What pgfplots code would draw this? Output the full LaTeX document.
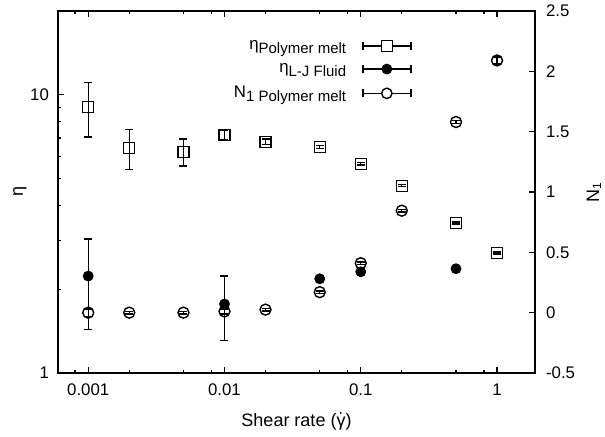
\documentclass[border=0pt]{standalone}
\usepackage{pgfplots}
\pgfplotsset{compat=1.18}
\usepackage{fontspec}
\setmainfont{Liberation Sans}
\newcommand\sub[1]{\raisebox{-0.45ex}{\fontsize{7.5}{8}\selectfont #1}}
\begin{document}
\begin{tikzpicture}
\useasboundingbox (-29pt,-32pt) rectangle (273.5pt,186.5pt);
\begin{axis}[
  scale only axis, width=238.5pt, height=181pt,
  xmode=log, ymode=log,
  xmin=6e-4, xmax=1.9, ymin=1, ymax=20,
  xtick={0.001,0.01,0.1,1}, xticklabels={0.001,0.01,0.1,1},
  minor xtick={0.0008,0.002,0.005,0.008,0.02,0.05,0.08,0.2,0.5,0.8},
  ytick={1,10}, yticklabels={1,10},
  minor ytick={2,3,4,5,6,7,8,9},
  xtick pos=both, ytick pos=left,
  tick align=inside,
  major tick length=3pt, minor tick length=1.6pt,
  axis line style={line width=0.9pt},
  every tick/.style={line width=0.7pt, black},
  tick label style={font=\fontsize{8.4}{10}\selectfont},
  xticklabel style={yshift=-2pt},
  yticklabel style={xshift=-1pt},
  xlabel={Shear rate ($\dot{\mbox{γ}}$)}, ylabel={η},
  label style={font=\fontsize{9}{11}\selectfont},
  xlabel style={yshift=-1.5pt},
  ylabel style={yshift=-5pt},
  clip=false,
]
% eta polymer melt
\addplot[only marks, black, mark=square, mark size=2.75pt, mark options={solid, line width=0.7pt},
  error bars/.cd, y dir=both, y explicit,
  error bar style={line width=0.7pt, black},
  error mark options={rotate=90, mark size=2pt, line width=0.7pt, black}]
coordinates {
(0.001,9.05) +- (0,2.0)
(0.002,6.45) +- (0,1.05)
(0.005,6.24) +- (0,0.70)
(0.01,7.18) +- (0,0.30)
(0.02,6.78) +- (0,0.15)
(0.05,6.50) +- (0,0.08)
(0.1,5.65) +- (0,0.05)
(0.2,4.71) +- (0,0.04)
(0.5,3.46) +- (0,0.03)
(1,2.70) +- (0,0.02)
};
% eta L-J fluid
\addplot[only marks, black, mark=*, mark size=2.5pt, mark options={solid},
  error bars/.cd, y dir=both, y explicit,
  error bar style={line width=0.7pt, black},
  error mark options={rotate=90, mark size=2pt, line width=0.7pt, black}]
coordinates {
(0.001,2.23) +- (0,0.80)
(0.01,1.77) +- (0,0.46)
(0.05,2.18) +- (0,0)
(0.1,2.31) +- (0,0)
(0.5,2.37) +- (0,0)
};
\end{axis}
\begin{axis}[
  scale only axis, width=238.5pt, height=181pt,
  xmode=log, xmin=6e-4, xmax=1.9,
  ymin=-0.5, ymax=2.5,
  axis x line=none, axis y line*=right,
  ytick={-0.5,0,0.5,1,1.5,2,2.5},
  yticklabels={-0.5,0,0.5,1,1.5,2,2.5},
  tick align=inside, major tick length=3pt,
  axis line style={line width=0.9pt, -},
  every tick/.style={line width=0.7pt, black},
  tick label style={font=\fontsize{8.4}{10}\selectfont},
  yticklabel style={xshift=2pt},
  ylabel={N\textsubscript{1}},
  label style={font=\fontsize{9}{11}\selectfont},
  ylabel style={yshift=1pt},
  legend style={draw=none, fill=none, at={(rel axis cs:0.742,0.932)}, anchor=north east,
    inner sep=0pt, row sep=1.5pt, column sep=6pt, font=\fontsize{8.4}{10}\selectfont},
  legend plot pos=right, legend cell align=right,
  clip=false,
]
\addlegendimage{legend image code/.code={
  \draw[black, line width=0.7pt] (0pt,0pt) -- (24pt,0pt);
  \draw[black, line width=0.7pt] (0pt,-2pt) -- (0pt,2pt);
  \draw[black, line width=0.7pt] (24pt,-2pt) -- (24pt,2pt);
  \draw[black, line width=0.7pt, fill=white] (9.25pt,-2.75pt) rectangle (14.75pt,2.75pt);
}}
\addlegendentry{η\sub{Polymer melt}}
\addlegendimage{legend image code/.code={
  \draw[black, line width=0.7pt] (0pt,0pt) -- (24pt,0pt);
  \draw[black, line width=0.7pt] (0pt,-2pt) -- (0pt,2pt);
  \draw[black, line width=0.7pt] (24pt,-2pt) -- (24pt,2pt);
  \fill[black] (12pt,0pt) circle (2.5pt);
}}
\addlegendentry{η\sub{L-J Fluid}}
\addlegendimage{legend image code/.code={
  \draw[black, line width=0.7pt] (0pt,0pt) -- (24pt,0pt);
  \draw[black, line width=0.7pt] (0pt,-2pt) -- (0pt,2pt);
  \draw[black, line width=0.7pt] (24pt,-2pt) -- (24pt,2pt);
  \draw[black, line width=0.7pt, fill=white] (12pt,0pt) circle (2.6pt);
}}
\addlegendentry{N\sub{1 Polymer melt}}
% N1 polymer melt
\addplot[only marks, black, mark=o, mark size=2.75pt, mark options={solid, line width=0.7pt}, forget plot,
  error bars/.cd, y dir=both, y explicit,
  error bar style={line width=0.7pt, black},
  error mark options={rotate=90, mark size=2pt, line width=0.7pt, black}]
coordinates {
(0.001,0.0) +- (0,0.03)
(0.002,0.0) +- (0,0.01)
(0.005,0.0) +- (0,0.01)
(0.01,0.01) +- (0,0.02)
(0.02,0.025) +- (0,0.01)
(0.05,0.17) +- (0,0.01)
(0.1,0.41) +- (0,0.01)
(0.2,0.845) +- (0,0.01)
(0.5,1.58) +- (0,0.01)
(1,2.09) +- (0,0.03)
};
\end{axis}
\end{tikzpicture}
\end{document}
